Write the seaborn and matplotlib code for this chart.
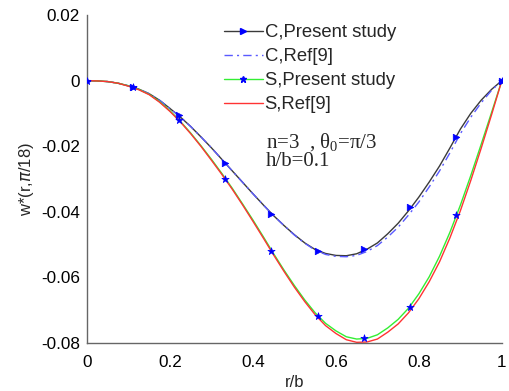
import numpy as np
import pandas as pd
import seaborn as sns
import matplotlib
matplotlib.use("Agg")
import matplotlib.pyplot as plt
from matplotlib.lines import Line2D

# ---- data ----
r_grid = [0.000, 0.025, 0.050, 0.075, 0.100, 0.125, 0.150, 0.175, 0.200, 0.225,
          0.250, 0.275, 0.300, 0.325, 0.350, 0.375, 0.400, 0.425, 0.450, 0.475,
          0.500, 0.525, 0.550, 0.575, 0.600, 0.625, 0.650, 0.675, 0.700, 0.725,
          0.750, 0.775, 0.800, 0.825, 0.850, 0.875, 0.900, 0.925, 0.950, 0.975,
          1.000]
c_present = [0.0, -0.0001, -0.0003, -0.0008, -0.0016, -0.0026, -0.0040, -0.0060,
             -0.0085, -0.0111, -0.0140, -0.0172, -0.0205, -0.0240, -0.0275,
             -0.0310, -0.0345, -0.0379, -0.0412, -0.0442, -0.0470, -0.0495,
             -0.0515, -0.0527, -0.0533, -0.0534, -0.0528, -0.0514, -0.0495,
             -0.0467, -0.0435, -0.0397, -0.0355, -0.0309, -0.0260, -0.0205,
             -0.0148, -0.0100, -0.0060, -0.0027, 0.0]
c_ref = [0.0, -0.0001, -0.0003, -0.0008, -0.0016, -0.0026, -0.0040, -0.0060,
         -0.0085, -0.0111, -0.0140, -0.0172, -0.0205, -0.0240, -0.0275,
         -0.0310, -0.0345, -0.0379, -0.0412, -0.0442, -0.0471, -0.0496,
         -0.0517, -0.0530, -0.0536, -0.0537, -0.0533, -0.0521, -0.0503,
         -0.0477, -0.0447, -0.0410, -0.0370, -0.0324, -0.0275, -0.0220,
         -0.0162, -0.0112, -0.0068, -0.0030, 0.0]
s_present = [0.0, -0.0001, -0.0003, -0.0008, -0.0016, -0.0027, -0.0042, -0.0064,
             -0.0092, -0.0124, -0.0160, -0.0199, -0.0240, -0.0283, -0.0328,
             -0.0376, -0.0425, -0.0476, -0.0528, -0.0578, -0.0625, -0.0669,
             -0.0708, -0.0740, -0.0763, -0.0781, -0.0788, -0.0786, -0.0775,
             -0.0754, -0.0728, -0.0694, -0.0650, -0.0598, -0.0535, -0.0462,
             -0.0380, -0.0290, -0.0195, -0.0098, 0.0]
s_ref = [0.0, -0.0001, -0.0003, -0.0008, -0.0017, -0.0028, -0.0043, -0.0066,
         -0.0094, -0.0126, -0.0162, -0.0201, -0.0243, -0.0286, -0.0331,
         -0.0379, -0.0429, -0.0480, -0.0532, -0.0582, -0.0630, -0.0674,
         -0.0714, -0.0747, -0.0771, -0.0790, -0.0798, -0.0797, -0.0788,
         -0.0767, -0.0742, -0.0708, -0.0665, -0.0613, -0.0552, -0.0479,
         -0.0397, -0.0305, -0.0207, -0.0105, 0.0]

r_mark = [0.0, 0.111, 0.222, 0.333, 0.444, 0.556, 0.667, 0.778, 0.889, 1.0]
c_present_mark = [0.0, -0.0020, -0.0105, -0.0250, -0.0407, -0.0519, -0.0514,
                  -0.0386, -0.0171, 0.0]
s_present_mark = [0.0, -0.0020, -0.0120, -0.0300, -0.0519, -0.0717, -0.0784,
                  -0.0689, -0.0410, 0.0]

labels = ["C,Present study", "C,Ref[9]", "S,Present study", "S,Ref[9]"]
x_ticks = [0, 0.2, 0.4, 0.6, 0.8, 1.0]
x_ticklabels = ["0", "0.2", "0.4", "0.6", "0.8", "1"]
y_ticks = [-0.08, -0.06, -0.04, -0.02, 0, 0.02]
y_ticklabels = ["-0.08", "-0.06", "-0.04", "-0.02", "0", "0.02"]
annotation = "n=3  , θ$_\\mathregular{0}$=π/3\nh/b=0.1"

# ---- plot ----
sns.set_style("white")
plt.rcParams['font.family'] = ['Liberation Sans', 'DejaVu Sans']

fig = plt.figure(figsize=(5.10, 3.91), dpi=100)
ax = fig.add_axes([0.1706, 0.1228, 0.8134, 0.8388])

line_col = dict(cp="#3a3a3a", cr="#5a5aff", sp="#33ee33", sr="#ff3333")
mk = "#0000ff"
dashdot = (0, (6, 3, 1.5, 3))

sns.lineplot(x=r_grid, y=c_present, ax=ax, color=line_col["cp"], lw=1.0, sort=False)
sns.lineplot(x=r_grid, y=c_ref, ax=ax, color=line_col["cr"], lw=1.0,
             linestyle=dashdot, sort=False)
sns.lineplot(x=r_grid, y=s_present, ax=ax, color=line_col["sp"], lw=1.0, sort=False)
sns.lineplot(x=r_grid, y=s_ref, ax=ax, color=line_col["sr"], lw=1.0, sort=False)

sns.scatterplot(x=r_mark, y=c_present_mark, ax=ax, marker=">", color=mk, s=22,
                edgecolor=mk, linewidth=0.5, zorder=5)
sns.scatterplot(x=r_mark, y=s_present_mark, ax=ax, marker="*", color=mk, s=30,
                edgecolor=mk, linewidth=0.5, zorder=5)

ax.set_xlim(0, 1)
ax.set_ylim(-0.08, 0.02)
ax.set_xticks(x_ticks)
ax.set_xticklabels(x_ticklabels)
ax.set_yticks(y_ticks)
ax.set_yticklabels(y_ticklabels)
ax.tick_params(direction="in", length=4, width=0.8, labelsize=12.3,
               colors="#555555", labelcolor="black")
ax.tick_params(axis="x", pad=9)
ax.tick_params(axis="y", pad=5)
for side in ["top", "right"]:
    ax.spines[side].set_visible(False)
for side in ["left", "bottom"]:
    ax.spines[side].set_color("#666666")
    ax.spines[side].set_linewidth(1.0)

ax.set_xlabel("r/b", fontsize=12, labelpad=3)
ax.set_ylabel(r"w*(r,$\pi$/18)", fontsize=12, labelpad=4)

handles = [
    Line2D([], [], color=line_col["cp"], lw=1.0, marker=">", mfc=mk, mec=mk, ms=5),
    Line2D([], [], color=line_col["cr"], lw=1.0, linestyle=dashdot),
    Line2D([], [], color=line_col["sp"], lw=1.0, marker="*", mfc=mk, mec=mk, ms=5),
    Line2D([], [], color=line_col["sr"], lw=1.0),
]
leg = ax.legend(handles, labels, loc="upper left", bbox_to_anchor=(0.308, 1.0),
                frameon=False, fontsize=13.3, handlelength=2.1, handletextpad=0.1,
                labelspacing=0.38, borderaxespad=0.25, borderpad=0.25)

serif = ["Liberation Serif", "DejaVu Serif"]
ax.text(0.432, 0.585, annotation, transform=ax.transAxes,
        fontsize=15, family=serif, va="center", ha="left", linespacing=0.88)

fig.savefig("out.png", dpi=100)
